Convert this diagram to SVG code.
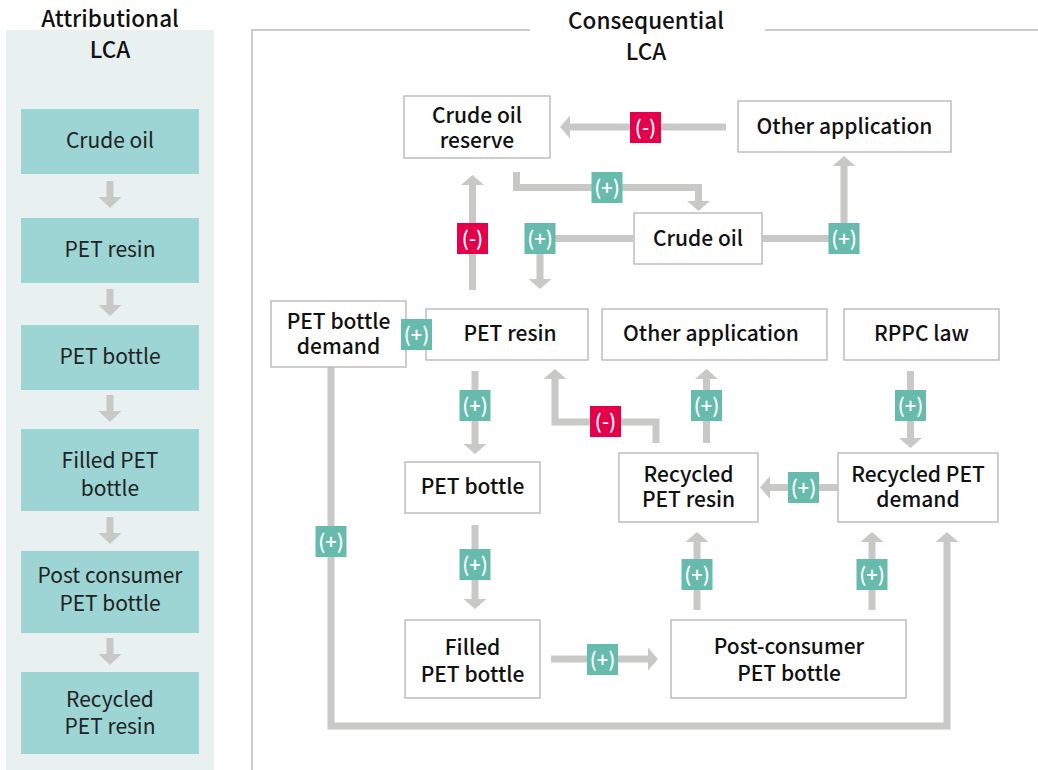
<svg xmlns="http://www.w3.org/2000/svg" width="1038" height="770" viewBox="0 0 1038 770">
  <style>
    .title { font-family: "Noto Sans CJK KR", "Noto Sans", sans-serif; font-size: 22.5px; font-weight: 500; fill: #111; text-anchor: middle; }
    .abox { fill: #9cd5d3; }
    .atext { font-family: "Noto Sans CJK KR", "Noto Sans", sans-serif; font-size: 21px; fill: #222; text-anchor: middle; }
    .node rect { fill: #fff; stroke: #bdbdbd; stroke-width: 1.5; }
    .node text { font-family: "Noto Sans CJK KR", "Noto Sans", sans-serif; font-size: 21px; font-weight: 500; fill: #111; text-anchor: middle; }
    .edge { fill: none; stroke: #c8c9c6; stroke-width: 7; marker-end: url(#head); }
    .plus rect { fill: #66bbad; }
    .minus rect { fill: #e5004c; }
    .badge text { font-family: "Noto Sans CJK KR", "Noto Sans", sans-serif; font-size: 20px; font-weight: 500; fill: #fff; text-anchor: middle; }
    .frame { fill: none; stroke: #cccccc; stroke-width: 2; }
  </style>
  <defs>
    <marker id="head" markerUnits="userSpaceOnUse" markerWidth="10" markerHeight="23" viewBox="0 0 10 23" refX="0" refY="11.5" orient="auto">
      <path d="M0,0 L10,11.5 L0,23 Z" fill="#c8c9c6"/>
    </marker>
    <path id="adown" d="M106.5,181 h7 v16 h8 l-11.5,11 l-11.5,-11 h8 z" fill="#c8c9c6"/>
  </defs>

  <!-- Attributional LCA column -->
  <g id="attributional">
    <rect x="6" y="30" width="208" height="740" fill="#e9f0f0"/>
    <text class="title" x="110" y="27">Attributional</text>
    <text class="title" x="110" y="58">LCA</text>

    <g id="a-crude-oil"><rect class="abox" x="21" y="109" width="178" height="65"/><text class="atext" x="110" y="148">Crude oil</text></g>
    <g id="a-pet-resin"><rect class="abox" x="21" y="218" width="178" height="65"/><text class="atext" x="110" y="257">PET resin</text></g>
    <g id="a-pet-bottle"><rect class="abox" x="21" y="325" width="178" height="65"/><text class="atext" x="110" y="364">PET bottle</text></g>
    <g id="a-filled"><rect class="abox" x="21" y="429" width="178" height="82"/><text class="atext" x="110" y="468">Filled PET</text><text class="atext" x="110" y="496">bottle</text></g>
    <g id="a-post"><rect class="abox" x="21" y="551" width="178" height="82"/><text class="atext" x="110" y="583">Post consumer</text><text class="atext" x="110" y="611">PET bottle</text></g>
    <g id="a-recycled"><rect class="abox" x="21" y="672" width="178" height="82"/><text class="atext" x="110" y="707">Recycled</text><text class="atext" x="110" y="734">PET resin</text></g>

    <g id="a-arrows">
      <use href="#adown"/>
      <use href="#adown" y="108"/>
      <use href="#adown" y="214"/>
      <use href="#adown" y="336"/>
      <use href="#adown" y="457"/>
    </g>
  </g>

  <!-- Consequential LCA frame -->
  <g id="consequential-frame">
    <path class="frame" d="M252,770 V30 H530 M765,30 H1038"/>
    <text class="title" x="646" y="29">Consequential</text>
    <text class="title" x="646" y="60">LCA</text>
  </g>

  <!-- Connectors -->
  <g id="connectors">
    <path class="edge" d="M726,127 H570"/>
    <path class="edge" d="M516.5,172 V187.5 H698.5 V201"/>
    <path class="edge" d="M633,238.5 H540 V279"/>
    <path class="edge" d="M762,238.5 H844 V166"/>
    <path class="edge" d="M472.5,290 V185"/>
    <path class="edge" d="M331,367 V726 H947 V542"/>
    <path class="edge" d="M475,371 V444"/>
    <path class="edge" d="M656,443 V422 H555 V379"/>
    <path class="edge" d="M706.5,443 V379"/>
    <path class="edge" d="M910.5,371 V438"/>
    <path class="edge" d="M838,487.5 H770"/>
    <path class="edge" d="M475,525 V599"/>
    <path class="edge" d="M551,659 H648"/>
    <path class="edge" d="M697,610 V542"/>
    <path class="edge" d="M872,610 V542"/>
  </g>

  <!-- Nodes -->
  <g id="n-crude-oil-reserve" class="node"><rect x="404" y="96" width="146" height="62"/><text x="477" y="123">Crude oil</text><text x="477" y="148">reserve</text></g>
  <g id="n-other-application-top" class="node"><rect x="738" y="101" width="213" height="51"/><text x="844.5" y="134">Other application</text></g>
  <g id="n-crude-oil" class="node"><rect x="634" y="213" width="128" height="51"/><text x="698" y="246">Crude oil</text></g>
  <g id="n-pet-bottle-demand" class="node"><rect x="271" y="301" width="135" height="66"/><text x="338.5" y="329">PET bottle</text><text x="338.5" y="354">demand</text></g>
  <g id="n-pet-resin" class="node"><rect x="426" y="309" width="162" height="51"/><text x="510" y="341">PET resin</text></g>
  <g id="n-other-application-mid" class="node"><rect x="602" y="309" width="225" height="51"/><text x="711" y="341">Other application</text></g>
  <g id="n-rppc-law" class="node"><rect x="844" y="309" width="155" height="51"/><text x="921.5" y="341">RPPC law</text></g>
  <g id="n-pet-bottle" class="node"><rect x="405" y="462" width="135" height="51"/><text x="472.5" y="494">PET bottle</text></g>
  <g id="n-recycled-pet-resin" class="node"><rect x="619" y="453" width="139" height="69"/><text x="688.5" y="482">Recycled</text><text x="688.5" y="507">PET resin</text></g>
  <g id="n-recycled-pet-demand" class="node"><rect x="838" y="453" width="160" height="69"/><text x="918" y="482">Recycled PET</text><text x="918" y="507">demand</text></g>
  <g id="n-filled-pet-bottle" class="node"><rect x="405" y="620" width="135" height="78"/><text x="472.5" y="655">Filled</text><text x="472.5" y="682">PET bottle</text></g>
  <g id="n-post-consumer" class="node"><rect x="671" y="620" width="235" height="78"/><text x="789" y="654">Post-consumer</text><text x="789" y="681">PET bottle</text></g>

  <!-- Sign badges on connectors -->
  <g id="badges">
    <g class="badge minus"><rect x="630" y="112" width="31" height="31"/><text x="645.5" y="134.5">(-)</text></g>
    <g class="badge plus"><rect x="591.5" y="172" width="31" height="31"/><text x="607" y="194.5">(+)</text></g>
    <g class="badge plus"><rect x="524.5" y="223" width="31" height="31"/><text x="540" y="245.5">(+)</text></g>
    <g class="badge plus"><rect x="828.5" y="223" width="31" height="31"/><text x="844" y="245.5">(+)</text></g>
    <g class="badge minus"><rect x="457" y="223" width="31" height="31"/><text x="472.5" y="245.5">(-)</text></g>
    <g class="badge plus"><rect x="401" y="319" width="31" height="31"/><text x="416.5" y="341.5">(+)</text></g>
    <g class="badge plus"><rect x="315.5" y="526" width="31" height="31"/><text x="331" y="548.5">(+)</text></g>
    <g class="badge plus"><rect x="459.5" y="390" width="31" height="31"/><text x="475" y="412.5">(+)</text></g>
    <g class="badge minus"><rect x="590" y="406" width="31" height="31"/><text x="605.5" y="428.5">(-)</text></g>
    <g class="badge plus"><rect x="691" y="390" width="31" height="31"/><text x="706.5" y="412.5">(+)</text></g>
    <g class="badge plus"><rect x="895" y="390" width="31" height="31"/><text x="910.5" y="412.5">(+)</text></g>
    <g class="badge plus"><rect x="788" y="472" width="31" height="31"/><text x="803.5" y="494.5">(+)</text></g>
    <g class="badge plus"><rect x="459.5" y="549" width="31" height="31"/><text x="475" y="571.5">(+)</text></g>
    <g class="badge plus"><rect x="587" y="644" width="31" height="31"/><text x="602.5" y="666.5">(+)</text></g>
    <g class="badge plus"><rect x="681.5" y="559" width="31" height="31"/><text x="697" y="581.5">(+)</text></g>
    <g class="badge plus"><rect x="856.5" y="559" width="31" height="31"/><text x="872" y="581.5">(+)</text></g>
  </g>
</svg>
